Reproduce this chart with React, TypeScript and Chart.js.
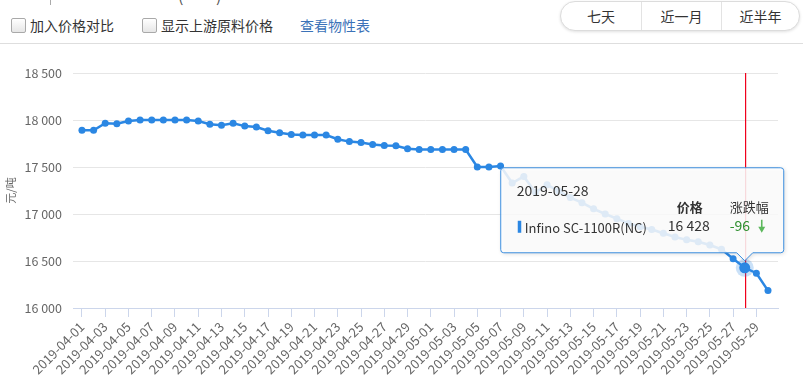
import React, { useEffect, useRef } from "react";
import { Chart, registerables } from "chart.js";

Chart.register(...registerables);

const dates = [
  "2019-04-01", "2019-04-02", "2019-04-03", "2019-04-04", "2019-04-05", "2019-04-06",
  "2019-04-07", "2019-04-08", "2019-04-09", "2019-04-10", "2019-04-11", "2019-04-12",
  "2019-04-13", "2019-04-14", "2019-04-15", "2019-04-16", "2019-04-17", "2019-04-18",
  "2019-04-19", "2019-04-20", "2019-04-21", "2019-04-22", "2019-04-23", "2019-04-24",
  "2019-04-25", "2019-04-26", "2019-04-27", "2019-04-28", "2019-04-29", "2019-04-30",
  "2019-05-01", "2019-05-02", "2019-05-03", "2019-05-04", "2019-05-05", "2019-05-06",
  "2019-05-07", "2019-05-08", "2019-05-09", "2019-05-10", "2019-05-11", "2019-05-12",
  "2019-05-13", "2019-05-14", "2019-05-15", "2019-05-16", "2019-05-17", "2019-05-18",
  "2019-05-19", "2019-05-20", "2019-05-21", "2019-05-22", "2019-05-23", "2019-05-24",
  "2019-05-25", "2019-05-26", "2019-05-27", "2019-05-28", "2019-05-29", "2019-05-30",
];

const prices = [
  17890, 17890, 17965, 17960, 17990, 18000,
  18000, 18000, 18000, 18000, 17990, 17955,
  17945, 17965, 17935, 17925, 17885, 17865,
  17845, 17840, 17840, 17840, 17795, 17770,
  17760, 17740, 17730, 17725, 17695, 17685,
  17685, 17685, 17685, 17685, 17500, 17500,
  17510, 17330, 17400, 17230, 17310, 17245,
  17175, 17120, 17055, 17000, 16950, 16900,
  16865, 16835, 16795, 16755, 16725, 16705,
  16670, 16625, 16524, 16428, 16370, 16185,
];

const yTickValues = [16000, 16500, 17000, 17500, 18000, 18500];
const seriesName = "Infino SC-1100R(NC)";
const hoverIndex = 57;
const hoverChange = -96;
const yUnit = "元/吨";
const rangeButtons = ["七天", "近一月", "近半年"];
const checkLabels = ["加入价格对比", "显示上游原料价格"];
const linkLabel = "查看物性表";

const FONT = '"Noto Sans CJK SC", "Noto Sans", sans-serif';
const BLUE = "#2b87e3";

const fmt = (v: number) => String(v).replace(/\B(?=(\d{3})+(?!\d))/g, " ");

const fakeTooltip = {
  id: "fakeTooltip",
  beforeDatasetsDraw(chart: any) {
    const { ctx, chartArea } = chart;
    const pt = chart.getDatasetMeta(0).data[hoverIndex];
    if (!pt) return;
    ctx.save();
    ctx.fillStyle = "#f0001c";
    ctx.fillRect(Math.round(pt.x), chartArea.top, 1.2, chartArea.bottom - chartArea.top);
    ctx.restore();
  },
  afterDatasetsDraw(chart: any) {
    const { ctx } = chart;
    const pt = chart.getDatasetMeta(0).data[hoverIndex];
    if (!pt) return;
    ctx.save();
    ctx.fillStyle = "rgba(43,135,227,0.25)";
    ctx.beginPath();
    ctx.arc(pt.x, pt.y, 9, 0, Math.PI * 2);
    ctx.fill();
    ctx.fillStyle = BLUE;
    ctx.beginPath();
    ctx.arc(pt.x, pt.y, 5.5, 0, Math.PI * 2);
    ctx.fill();
    ctx.restore();
  },
  afterDraw(chart: any) {
    const { ctx } = chart;
    const pt = chart.getDatasetMeta(0).data[hoverIndex];
    if (!pt) return;
    const px = pt.x;
    const L = px - 244;
    const R = px + 39;
    const B = pt.y - 15;
    const T = B - 85;
    const r = 3;
    ctx.save();
    ctx.beginPath();
    ctx.moveTo(L + r, T);
    ctx.lineTo(R - r, T);
    ctx.quadraticCurveTo(R, T, R, T + r);
    ctx.lineTo(R, B - r);
    ctx.quadraticCurveTo(R, B, R - r, B);
    ctx.lineTo(px + 8, B);
    ctx.lineTo(px, B + 8);
    ctx.lineTo(px - 8, B);
    ctx.lineTo(L + r, B);
    ctx.quadraticCurveTo(L, B, L, B - r);
    ctx.lineTo(L, T + r);
    ctx.quadraticCurveTo(L, T, L + r, T);
    ctx.closePath();
    ctx.shadowColor = "rgba(0,0,0,0.18)";
    ctx.shadowBlur = 4;
    ctx.shadowOffsetX = 1;
    ctx.shadowOffsetY = 1;
    ctx.fillStyle = "rgba(255,255,255,0.85)";
    ctx.fill();
    ctx.shadowColor = "transparent";
    ctx.strokeStyle = "#3d8fe0";
    ctx.lineWidth = 1;
    ctx.stroke();

    ctx.textBaseline = "middle";
    ctx.textAlign = "left";
    ctx.fillStyle = "#333";
    ctx.font = `14px ${FONT}`;
    ctx.fillText(dates[hoverIndex], L + 16, T + 23);

    ctx.font = `bold 13px ${FONT}`;
    ctx.fillText("价格", L + 176, T + 39);
    ctx.font = `13px ${FONT}`;
    ctx.fillText("涨跌幅", L + 229, T + 39);

    ctx.fillStyle = BLUE;
    ctx.fillRect(L + 17, T + 53, 3.5, 12);

    ctx.fillStyle = "#333";
    ctx.font = `13px ${FONT}`;
    ctx.fillText(seriesName, L + 24, T + 60);
    ctx.font = `14px ${FONT}`;
    ctx.fillText(fmt(prices[hoverIndex]), L + 167, T + 58);

    ctx.fillStyle = "#2f8f2f";
    ctx.fillText(String(hoverChange), L + 229, T + 58);

    const ax = L + 261;
    ctx.strokeStyle = "#5cb85c";
    ctx.fillStyle = "#5cb85c";
    ctx.lineWidth = 1.6;
    ctx.beginPath();
    ctx.moveTo(ax, T + 52);
    ctx.lineTo(ax, T + 61);
    ctx.stroke();
    ctx.beginPath();
    ctx.moveTo(ax - 3.5, T + 59);
    ctx.lineTo(ax + 3.5, T + 59);
    ctx.lineTo(ax, T + 65);
    ctx.closePath();
    ctx.fill();
    ctx.restore();
  },
};

function LineChart() {
  const ref = useRef<HTMLCanvasElement | null>(null);
  useEffect(() => {
    if (!ref.current) return;
    const chart = new Chart(ref.current, {
      type: "line",
      data: {
        datasets: [
          {
            label: seriesName,
            data: prices.map((v, i) => ({ x: i, y: v })),
            borderColor: BLUE,
            backgroundColor: BLUE,
            borderWidth: 2.5,
            pointRadius: 3.5,
            pointBorderWidth: 0,
            pointBackgroundColor: BLUE,
            tension: 0,
          },
        ],
      },
      options: {
        animation: false,
        responsive: false,
        events: [],
        layout: { padding: { left: 0, right: 25, top: 27, bottom: 0 } },
        plugins: {
          legend: { display: false },
          tooltip: { enabled: false },
        },
        scales: {
          x: {
            type: "linear",
            min: -0.77,
            max: 59.86,
            afterBuildTicks: (s: any) => {
              s.ticks = dates.map((_, i) => ({ value: i })).filter((t) => t.value % 2 === 0);
            },
            afterFit: (s: any) => {
              s.height = 80;
            },
            ticks: {
              autoSkip: false,
              maxRotation: 45,
              minRotation: 45,
              padding: 2,
              color: "#666",
              font: { family: FONT, size: 13 },
              callback: (v: any) => dates[v as number] ?? "",
            },
            grid: {
              drawOnChartArea: false,
              drawTicks: true,
              tickLength: 9,
              color: "#ccd6eb",
            },
            border: { display: true, color: "#ccd6eb" },
          },
          y: {
            min: 16000,
            max: 18500,
            afterBuildTicks: (s: any) => {
              s.ticks = yTickValues.map((v) => ({ value: v }));
            },
            afterFit: (s: any) => {
              s.width = 73;
            },
            ticks: {
              padding: 11,
              color: "#666",
              font: { family: FONT, size: 12.5 },
              callback: (v: any) => fmt(Number(v)),
            },
            grid: { color: "#e6e6e6", drawTicks: false },
            border: { display: false },
            title: {
              display: true,
              text: yUnit,
              color: "#666",
              font: { family: FONT, size: 11 },
              padding: { top: 4, bottom: 0 },
            },
          },
        },
      },
      plugins: [fakeTooltip],
    } as any);
    return () => chart.destroy();
  }, []);
  return (
    <canvas
      ref={ref}
      width={803}
      height={342}
      style={{ position: "absolute", left: 0, top: 46, width: 803, height: 342 }}
    />
  );
}

function CheckBox({ left, label }: { left: number; label: string }) {
  return (
    <>
      <div
        style={{
          position: "absolute",
          left,
          top: 18,
          width: 13,
          height: 13,
          border: "1px solid #a9a9a9",
          borderRadius: 2,
          background: "linear-gradient(#ffffff, #e6e6e6)",
        }}
      />
      <div
        style={{
          position: "absolute",
          left: left + 19,
          top: 15,
          fontSize: 14,
          lineHeight: "20px",
          color: "#333",
          whiteSpace: "nowrap",
        }}
      >
        {label}
      </div>
    </>
  );
}

export default function App() {
  return (
    <div
      style={{
        position: "fixed",
        left: 0,
        top: 0,
        width: 803,
        height: 388,
        background: "#fff",
        overflow: "hidden",
        fontFamily: FONT,
      }}
    >
      <div style={{ position: "absolute", left: 50, top: 0, width: 1, height: 5, background: "#aaa" }} />
      <div style={{ position: "absolute", left: 178, top: -14, fontSize: 16, lineHeight: "18px", color: "#555" }}>(</div>
      <div style={{ position: "absolute", left: 216, top: -14, fontSize: 16, lineHeight: "18px", color: "#555" }}>)</div>

      <CheckBox left={11} label={checkLabels[0]} />
      <CheckBox left={142} label={checkLabels[1]} />
      <div
        style={{
          position: "absolute",
          left: 300,
          top: 15,
          fontSize: 14,
          lineHeight: "20px",
          color: "#3b72b8",
          whiteSpace: "nowrap",
        }}
      >
        {linkLabel}
      </div>

      <div
        style={{
          position: "absolute",
          left: 560,
          top: 1,
          width: 238,
          height: 28,
          border: "1px solid #dcdcdc",
          borderRadius: 15,
          boxShadow: "0 1px 3px rgba(0,0,0,0.12)",
          background: "#fff",
          display: "flex",
          overflow: "hidden",
        }}
      >
        {rangeButtons.map((b, i) => (
          <div
            key={b}
            style={{
              flex: "0 0 auto",
              width: i === 2 ? 78 : 80,
              height: 28,
              lineHeight: "28px",
              textAlign: "center",
              fontSize: 14,
              color: "#333",
              borderLeft: i > 0 ? "1px solid #e3e3e3" : "none",
              boxSizing: "border-box",
            }}
          >
            {b}
          </div>
        ))}
      </div>

      <div style={{ position: "absolute", left: 0, top: 43, width: 803, height: 1, background: "#dedede" }} />

      <LineChart />
    </div>
  );
}
